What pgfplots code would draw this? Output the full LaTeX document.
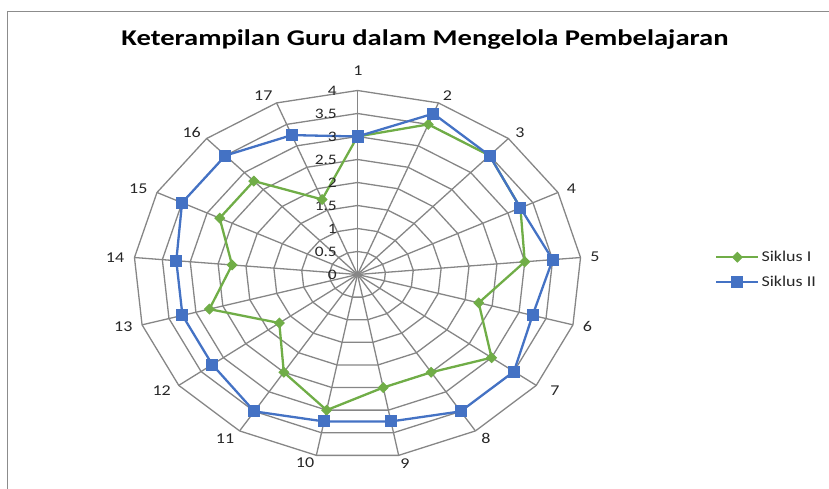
\documentclass[border=0pt]{standalone}
\usepackage{pgfplots}
\pgfplotsset{compat=1.18}
\usepackage{pgfplotstable}
\usepackage{fontspec}
\setmainfont{Carlito}[FakeStretch=1.2]
\newfontfamily\titlefont{Carlito}[FakeStretch=1.27]
\definecolor{gridc}{HTML}{868686}
\definecolor{txt}{HTML}{262626}
\definecolor{sone}{HTML}{70AD47}
\definecolor{stwo}{HTML}{4472C4}
\definecolor{border}{HTML}{8C8C8C}

% k = category (1..17, 18 closes the loop), v = score
\pgfplotstableread{
k v
1 3
2 3.5
3 3.5
4 3.25
5 3
6 2.25
7 3
8 2.5
9 2.5
10 3
11 2.5
12 1.75
13 2.75
14 2.25
15 2.75
16 2.75
17 1.75
18 3
}\siklusI

\pgfplotstableread{
k v
1 3
2 3.75
3 3.5
4 3.25
5 3.5
6 3.25
7 3.5
8 3.5
9 3.25
10 3.25
11 3.5
12 3.25
13 3.25
14 3.25
15 3.5
16 3.5
17 3.25
18 3
}\siklusII

\begin{document}
\begin{tikzpicture}
% radar grid (ellipse: 56pt per unit horizontally, 46pt vertically)
\begin{scope}[shift={(357.5pt,214.5pt)}, x=56pt, y=46pt, draw=gridc, line width=1.3pt]
\foreach \k in {0,...,16} \draw (0,0) -- ({90-\k*360/17}:4);
\foreach \r in {0.5,1,1.5,2,2.5,3,3.5,4}
  \draw (90:\r) \foreach \k in {1,...,16}{ -- ({90-\k*360/17}:\r)} -- cycle;
\end{scope}
% chart border
\draw[border, line width=0.9pt] (7.5pt,0pt) -- (7.5pt,477.5pt) -- (829pt,477.5pt);

\begin{axis}[at={(0pt,0pt)}, anchor=south west, scale only axis,
  width=829pt, height=489pt, xmin=0, xmax=829, ymin=0, ymax=489,
  y dir=reverse, axis lines=none, clip=false,
  legend style={at={(axis cs:715,249)}, anchor=north west, draw=none, fill=none,
    font=\fontsize{15}{18}\selectfont\color{txt}, row sep=9pt, inner sep=0pt,
    /tikz/every even column/.append style={column sep=2pt}},
  legend cell align=left,
  legend image code/.code={\draw[mark repeat=2, mark phase=2] plot coordinates {(0pt,0pt) (21pt,0pt) (42pt,0pt)};}
]
\addplot[sone, line width=2.3pt, mark=square*, mark size=3.4pt, mark options={rotate=45, solid, line width=1pt}]
  table[x expr={357.5+56*\thisrow{v}*sin((\thisrow{k}-1)*360/17)},
        y expr={274.5-46*\thisrow{v}*cos((\thisrow{k}-1)*360/17)}] {\siklusI};
\addlegendentry{Siklus I}
\addplot[stwo, line width=2.3pt, mark=square*, mark size=5.5pt, mark options={solid, line width=1pt}]
  table[x expr={357.5+56*\thisrow{v}*sin((\thisrow{k}-1)*360/17)},
        y expr={274.5-46*\thisrow{v}*cos((\thisrow{k}-1)*360/17)}] {\siklusII};
\addlegendentry{Siklus II}

% title
\node[anchor=base, font=\titlefont\fontsize{22.5}{27}\selectfont\bfseries, text=black] at (axis cs:425,45.5) {Keterampilan Guru dalam Mengelola Pembelajaran};

% radial value labels
\begin{scope}[every node/.style={anchor=east, inner sep=0pt, font=\fontsize{14.5}{17}\selectfont, text=txt}]
\node at (axis cs:337,274.5) {0};
\node at (axis cs:337,251.5) {0.5};
\node at (axis cs:337,228.5) {1};
\node at (axis cs:337,205.5) {1.5};
\node at (axis cs:337,182.5) {2};
\node at (axis cs:337,159.5) {2.5};
\node at (axis cs:337,136.5) {3};
\node at (axis cs:337,113.5) {3.5};
\node at (axis cs:337,90.5) {4};
\end{scope}

% category labels
\begin{scope}[every node/.style={anchor=center, inner sep=0pt, font=\fontsize{15}{18}\selectfont, text=txt}]
\node at (axis cs:358,71) {1};
\node at (axis cs:447.5,96) {2};
\node at (axis cs:520,132.5) {3};
\node at (axis cs:571.5,189) {4};
\node at (axis cs:595,256.7) {5};
\node at (axis cs:587.3,326.7) {6};
\node at (axis cs:555,390.7) {7};
\node at (axis cs:486,438.3) {8};
\node at (axis cs:405,463.3) {9};
\node at (axis cs:305,462.7) {10};
\node at (axis cs:225,438.3) {11};
\node at (axis cs:161.7,390.3) {12};
\node at (axis cs:123.3,326.7) {13};
\node at (axis cs:115,257.5) {14};
\node at (axis cs:138.3,189) {15};
\node at (axis cs:191.7,132.7) {16};
\node at (axis cs:263.3,96) {17};
\end{scope}
\end{axis}
\pgfresetboundingbox
\path[use as bounding box] (0pt,0pt) rectangle (829pt,489pt);
\end{tikzpicture}
\end{document}
